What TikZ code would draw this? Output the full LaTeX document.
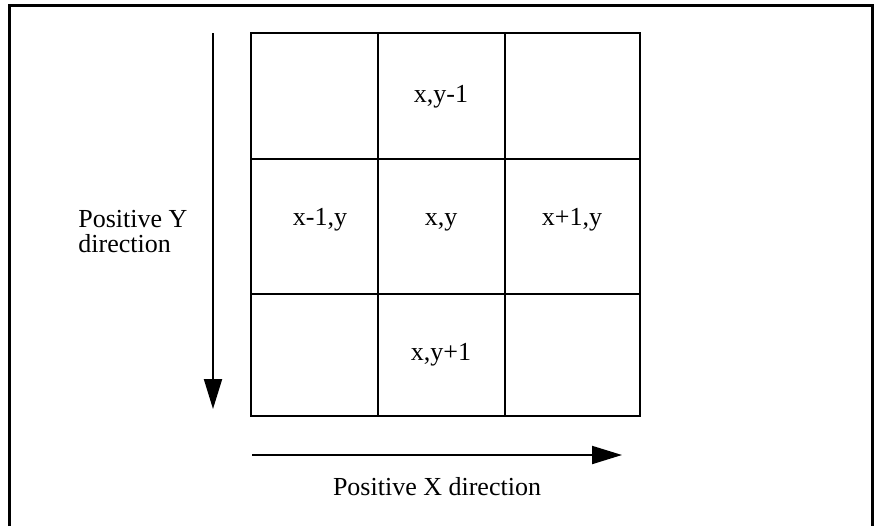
\documentclass[tikz,border=0pt]{standalone}
\usepackage{fontspec}
\setmainfont{Liberation Serif}
\usetikzlibrary{arrows.meta}
\begin{document}
\begin{tikzpicture}[x=0.5pt,y=-0.5pt,
  frameline/.style={line width=1.5pt},
  cellline/.style={line width=1pt},
  dirarrow/.style={line width=1pt,-{Triangle[length=15pt,width=9pt]}},
  lbl/.style={font=\fontsize{13}{12.5}\selectfont,inner sep=0pt,
    text height=1.6ex,text depth=.5ex}]
  \useasboundingbox (0,0) rectangle (878,526);
  % Rahmen (unten offen)
  \draw[frameline] (9,526) -- (9,5) -- (872,5) -- (872,526);
  % Gitter 3x3
  \draw[cellline] (251,33) rectangle (640,416);
  \draw[cellline] (378,33) -- (378,416);
  \draw[cellline] (505,33) -- (505,416);
  \draw[cellline] (251,159) -- (640,159);
  \draw[cellline] (251,294) -- (640,294);
  % Zellbeschriftungen
  \node[lbl] (up) at (441,97) {x,y-1};
  \node[lbl] (left) at (320,220) {x-1,y};
  \node[lbl] (centre) at (441,220) {x,y};
  \node[lbl] (right) at (572,220) {x+1,y};
  \node[lbl] (down) at (441,355) {x,y+1};
  % Richtungspfeile
  \coordinate (Ytop) at (213,33);
  \coordinate (Ybot) at (213,409);
  \coordinate (Xleft) at (252,455);
  \coordinate (Xright) at (622,455);
  \draw[dirarrow] (Ytop) -- (Ybot);
  \draw[dirarrow] (Xleft) -- (Xright);
  % Achsentexte
  \node[lbl,align=left,anchor=west,text height=,text depth=] (ylabel) at (78,232) {Positive Y\\direction};
  \node[lbl] (xlabel) at (437,490) {Positive X direction};
\end{tikzpicture}
\end{document}
